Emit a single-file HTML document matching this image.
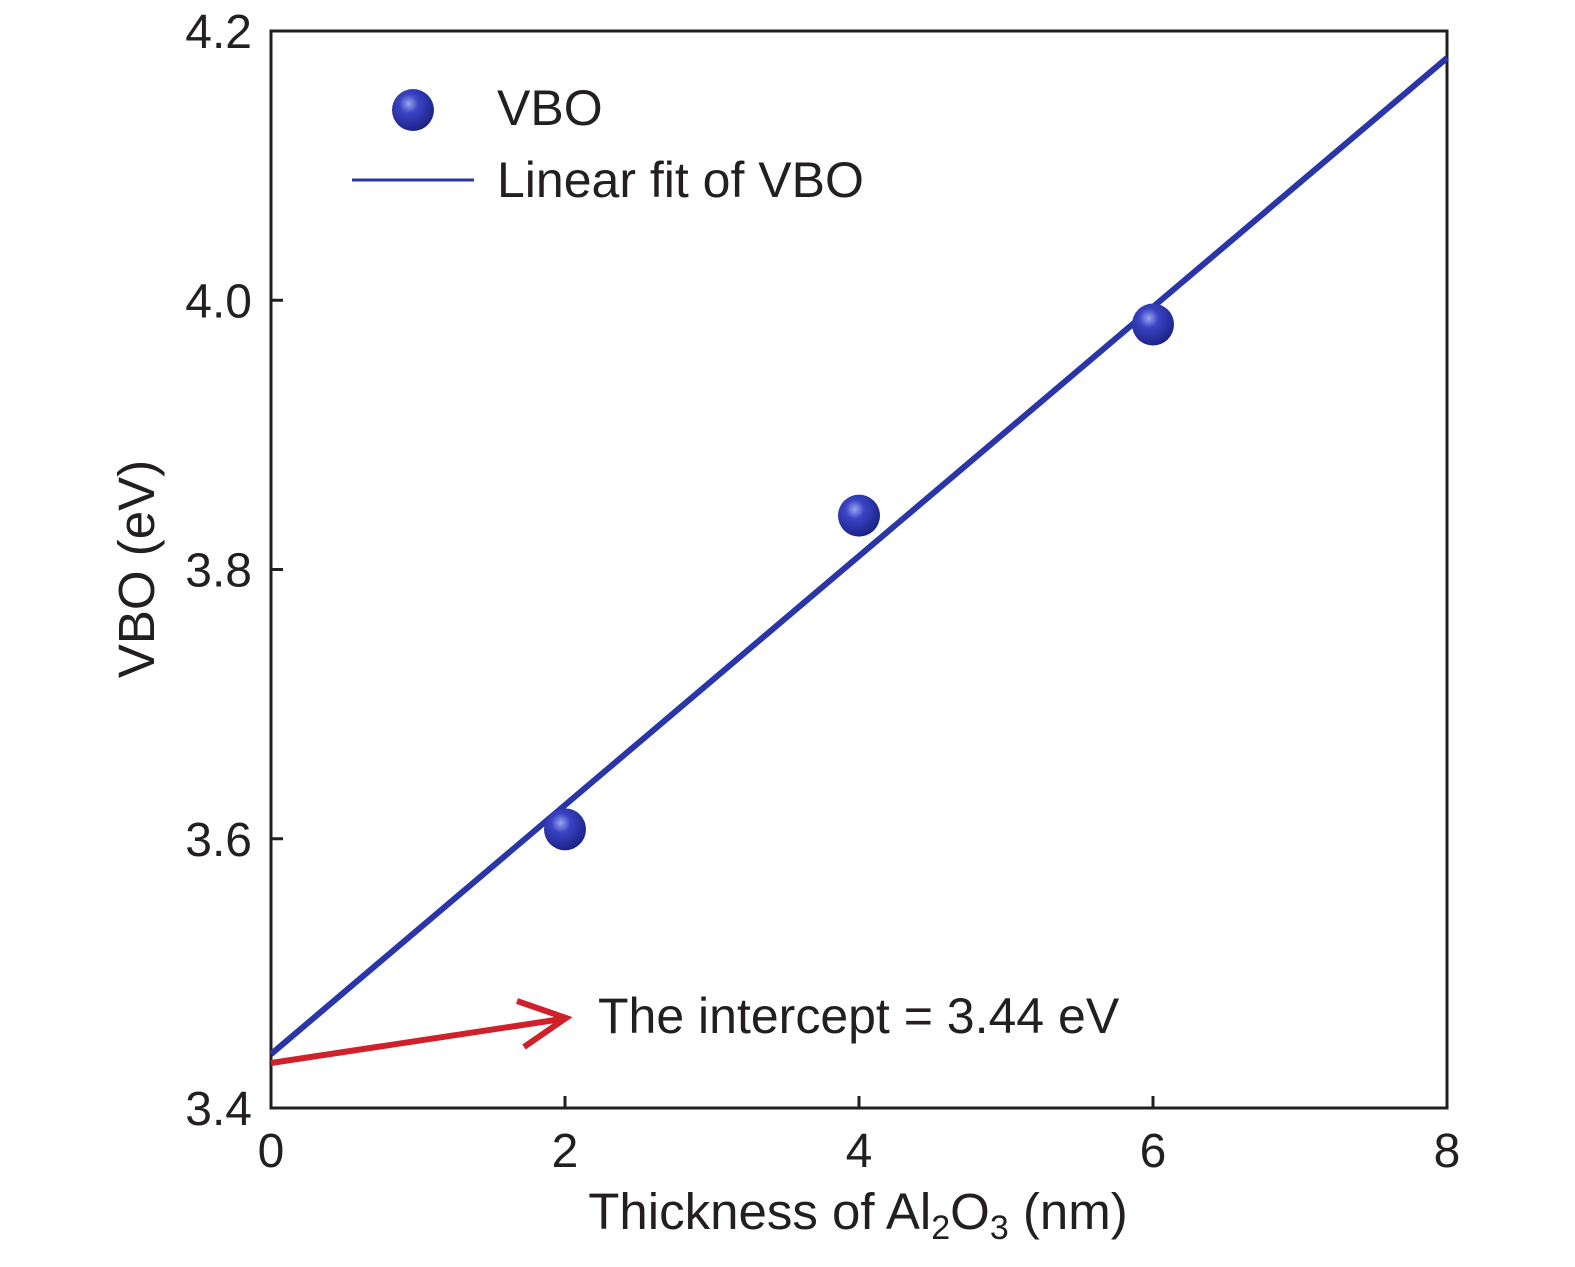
<!DOCTYPE html>
<html><head><meta charset="utf-8"><style>
html,body{margin:0;padding:0;background:#fff;}
svg text{font-family:"Liberation Sans",sans-serif;fill:#231f20;}
</style></head><body>
<svg id="chart" width="1575" height="1262" viewBox="0 0 1575 1262">
<defs>
<radialGradient id="ball" cx="0.4" cy="0.35" r="0.65">
<stop offset="0" stop-color="#9aa4f0"/><stop offset="0.35" stop-color="#3a44c4"/><stop offset="1" stop-color="#1c2388"/>
</radialGradient>
</defs>
<g id="plot"></g>
</svg>
<script>
const xTicks=[0,2,4,6,8];
const yTicks=[3.4,3.6,3.8,4.0,4.2];
const yTickLabels=["3.4","3.6","3.8","4.0","4.2"];
const thickness=[2,4,6];
const vbo=[3.607,3.840,3.982];
const fitIntercept=3.44;
const fitSlope=0.0925;
const X0=271,X1=1447,Y0=1108,Y1=31;
const sx=v=>X0+(v-0)/(8-0)*(X1-X0);
const sy=v=>Y0-(v-3.4)/(4.2-3.4)*(Y0-Y1);
const NS="http://www.w3.org/2000/svg";
const g=document.getElementById('plot');
function mk(t,a){const e=document.createElementNS(NS,t);for(const k in a)e.setAttribute(k,a[k]);g.appendChild(e);return e;}
let fr=mk('rect',{x:X0,y:Y1,width:X1-X0,height:Y0-Y1,fill:'none',stroke:'#231f20','stroke-width':3});


xTicks.forEach(v=>{
 let t=mk('line',{x1:sx(v),x2:sx(v),y1:Y0,y2:Y0-12,stroke:'#231f20','stroke-width':3});
 
 
 let l=mk('text',{x:sx(v),y:1167,'font-size':48,'text-anchor':'middle'});l.textContent=v;
 
 
});
yTicks.forEach((v,i)=>{
 let t=mk('line',{x1:X0,x2:X0+12,y1:sy(v),y2:sy(v),stroke:'#231f20','stroke-width':3});
 
 
 let l=mk('text',{x:252,y:sy(v)+17,'font-size':48,'text-anchor':'end'});l.textContent=yTickLabels[i];
 
 
});
let fl=mk('line',{x1:sx(0),y1:sy(fitIntercept),x2:sx(8),y2:sy(fitIntercept+fitSlope*8),stroke:'#2a35a8','stroke-width':6});


thickness.forEach((x,i)=>{
 let c=mk('circle',{cx:sx(x),cy:sy(vbo[i]),r:21,fill:'url(#ball)'});
 
 
});
let ar=mk('line',{x1:271,y1:1063,x2:562,y2:1019,stroke:'#d0202a','stroke-width':6});


let ah=mk('polyline',{points:'517,1001 566,1018 524,1047',fill:'none',stroke:'#d0202a','stroke-width':6});


let it=mk('text',{x:598,y:1033,'font-size':50});it.textContent='The intercept = 3.44 eV';


let lm=mk('circle',{cx:413,cy:110,r:21,fill:'url(#ball)'});


let lt=mk('text',{x:497,y:125,'font-size':50});lt.textContent='VBO';


let ll=mk('line',{x1:352,x2:474,y1:180,y2:180,stroke:'#2a35a8','stroke-width':3});


let lt2=mk('text',{x:497,y:197,'font-size':50});lt2.textContent='Linear fit of VBO';


let xt=mk('text',{x:858,y:1229,'font-size':51,'text-anchor':'middle'});
xt.innerHTML='Thickness of Al<tspan font-size="34" dy="10">2</tspan><tspan dy="-10">O</tspan><tspan font-size="34" dy="10">3</tspan><tspan dy="-10"> (nm)</tspan>';


let yt=mk('text',{x:0,y:0,'font-size':51,'text-anchor':'middle',transform:'translate(154,569) rotate(-90)'});yt.textContent='VBO (eV)';


</script>
</body></html>
